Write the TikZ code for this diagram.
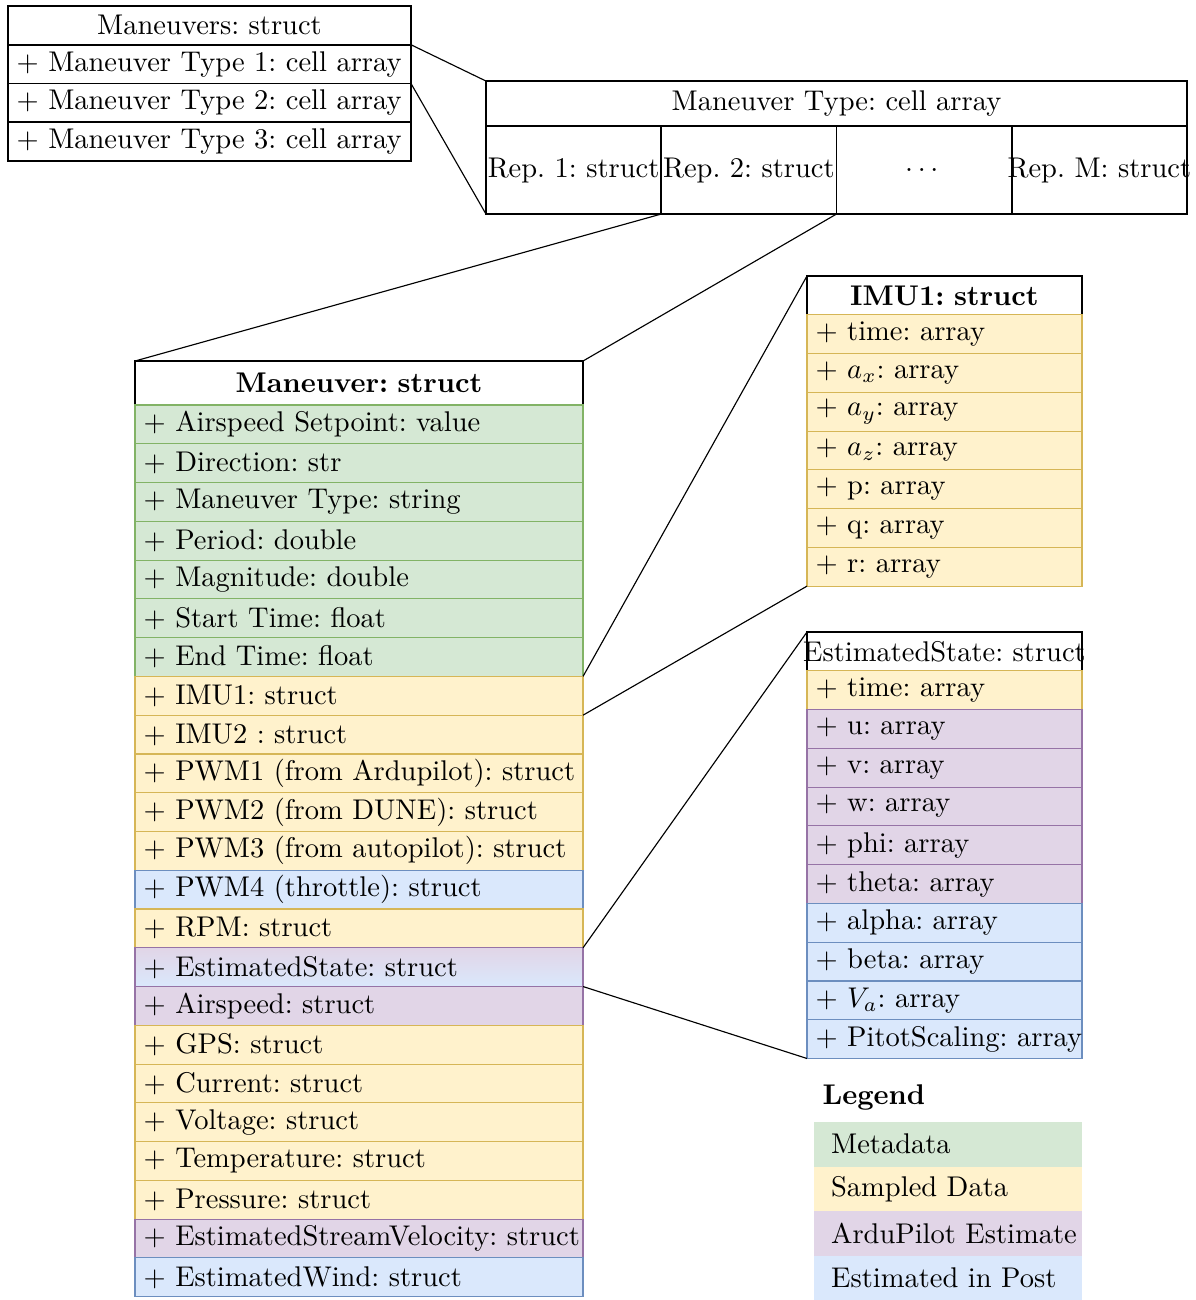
\documentclass[tikz,border=0pt]{standalone}
\usepackage{amsmath}
\usepackage{tikz}
\usetikzlibrary{positioning}

\definecolor{metafill}{HTML}{D5E8D4}
\definecolor{metaline}{HTML}{82B366}
\definecolor{sampfill}{HTML}{FFF2CC}
\definecolor{sampline}{HTML}{D6B656}
\definecolor{apfill}{HTML}{E1D5E7}
\definecolor{apline}{HTML}{9673A6}
\definecolor{postfill}{HTML}{DAE8FC}
\definecolor{postline}{HTML}{6C8EBF}

\frenchspacing

\tikzset{
	cell/.style = {rectangle, draw, semithick, inner sep=0pt, outer sep=0pt, text width=#1, minimum height=0.478cm,
		execute at begin node=\hbox to\hsize\bgroup\hss, execute at end node=\hss\egroup},
	field/.style = {rectangle, draw, thin, inner sep=0pt, outer sep=0pt, inner xsep=3pt, text width=#1, minimum height=0.478cm,
		execute at begin node=\hbox\bgroup, execute at end node=\egroup},
	key/.style = {rectangle, inner sep=0pt, outer sep=0pt, inner xsep=6pt, text width=2.882cm, minimum height=0.549cm,
		execute at begin node=\hbox\bgroup, execute at end node=\egroup},
	meta/.style = {fill=metafill, draw=metaline},
	samp/.style = {fill=sampfill, draw=sampline},
	ap/.style = {fill=apfill, draw=apline},
	post/.style = {fill=postfill, draw=postline},
}

\begin{document}
\begin{tikzpicture}
	\useasboundingbox (0,0) rectangle (14.747,-16.029);

	% all maneuvers
	\node[cell=4.969cm, anchor=north west] (mans) at (0.099,-0.074) {Maneuvers: struct};
	\node[field=4.758cm, semithick, below = 0pt of mans] (type1) {$+$ Maneuver Type 1: cell array};
	\node[field=4.758cm, semithick, below = 0pt of type1] (type2) {$+$ Maneuver Type 2: cell array};
	\node[field=4.758cm, semithick, below = 0pt of type2] (type3) {$+$ Maneuver Type 3: cell array};

	% one maneuver type
	\node[cell=8.644cm, minimum height=0.555cm, anchor=north west] (mtype) at (5.992,-0.999) {Maneuver Type: cell array};
	\node[cell=2.161cm, minimum height=1.085cm, anchor=north west] (rep1) at (mtype.south west) {Rep. 1: struct};
	\node[cell=2.161cm, minimum height=1.085cm, right = 0pt of rep1] (rep2) {Rep. 2: struct};
	\node[cell=2.161cm, minimum height=1.085cm, right = 0pt of rep2] (dots) {$\dots$};
	\node[cell=2.161cm, minimum height=1.085cm, right = 0pt of dots] (repm) {Rep. M: struct};

	% one repetition
	\node[cell=5.524cm, thick, minimum height=0.543cm, anchor=north west, font=\bfseries] (man) at (1.665,-4.451) {Maneuver: struct};
	\node[field=5.313cm, meta, below = 0pt of man] (setpoint) {$+$ Airspeed Setpoint: value};
	\node[field=5.313cm, meta, below = 0pt of setpoint] (dir) {$+$ Direction: str};
	\node[field=5.313cm, meta, below = 0pt of dir] (mantype) {$+$ Maneuver Type: string};
	\node[field=5.313cm, meta, below = 0pt of mantype] (period) {$+$ Period: double};
	\node[field=5.313cm, meta, below = 0pt of period] (mag) {$+$ Magnitude: double};
	\node[field=5.313cm, meta, below = 0pt of mag] (tstart) {$+$ Start Time: float};
	\node[field=5.313cm, meta, below = 0pt of tstart] (tend) {$+$ End Time: float};
	\node[field=5.313cm, samp, below = 0pt of tend] (imu1) {$+$ IMU1: struct};
	\node[field=5.313cm, samp, below = 0pt of imu1] (imu2) {$+$ IMU2 : struct};
	\node[field=5.313cm, samp, below = 0pt of imu2] (pwm1) {$+$ PWM1 (from Ardupilot): struct};
	\node[field=5.313cm, samp, below = 0pt of pwm1] (pwm2) {$+$ PWM2 (from DUNE): struct};
	\node[field=5.313cm, samp, below = 0pt of pwm2] (pwm3) {$+$ PWM3 (from autopilot): struct};
	\node[field=5.313cm, post, below = 0pt of pwm3] (pwm4) {$+$ PWM4 (throttle): struct};
	\node[field=5.313cm, samp, below = 0pt of pwm4] (rpm) {$+$ RPM: struct};
	\node[field=5.313cm, top color=apfill, bottom color=postfill, draw=apline, below = 0pt of rpm] (est) {$+$ EstimatedState: struct};
	\node[field=5.313cm, ap, below = 0pt of est] (aspd) {$+$ Airspeed: struct};
	\node[field=5.313cm, samp, below = 0pt of aspd] (gps) {$+$ GPS: struct};
	\node[field=5.313cm, samp, below = 0pt of gps] (curr) {$+$ Current: struct};
	\node[field=5.313cm, samp, below = 0pt of curr] (volt) {$+$ Voltage: struct};
	\node[field=5.313cm, samp, below = 0pt of volt] (temp) {$+$ Temperature: struct};
	\node[field=5.313cm, samp, below = 0pt of temp] (press) {$+$ Pressure: struct};
	\node[field=5.313cm, ap, below = 0pt of press] (stream) {$+$ EstimatedStreamVelocity: struct};
	\node[field=5.313cm, post, below = 0pt of stream] (wind) {$+$ EstimatedWind: struct};

	% imu
	\node[cell=3.391cm, anchor=north west, font=\bfseries] (imuhead) at (9.950,-3.403) {IMU1: struct};
	\node[field=3.180cm, samp, below = 0pt of imuhead] (itime) {$+$ time: array};
	\node[field=3.180cm, samp, below = 0pt of itime] (ax) {$+$ $a_x$: array};
	\node[field=3.180cm, samp, below = 0pt of ax] (ay) {$+$ $a_y$: array};
	\node[field=3.180cm, samp, below = 0pt of ay] (az) {$+$ $a_z$: array};
	\node[field=3.180cm, samp, below = 0pt of az] (p) {$+$ p: array};
	\node[field=3.180cm, samp, below = 0pt of p] (q) {$+$ q: array};
	\node[field=3.180cm, samp, below = 0pt of q] (r) {$+$ r: array};

	% estimated state
	\node[cell=3.391cm, anchor=north west] (esthead) at (9.950,-7.793) {EstimatedState: struct};
	\node[field=3.180cm, samp, below = 0pt of esthead] (etime) {$+$ time: array};
	\node[field=3.180cm, ap, below = 0pt of etime] (u) {$+$ u: array};
	\node[field=3.180cm, ap, below = 0pt of u] (v) {$+$ v: array};
	\node[field=3.180cm, ap, below = 0pt of v] (w) {$+$ w: array};
	\node[field=3.180cm, ap, below = 0pt of w] (phi) {$+$ phi: array};
	\node[field=3.180cm, ap, below = 0pt of phi] (theta) {$+$ theta: array};
	\node[field=3.180cm, post, below = 0pt of theta] (alpha) {$+$ alpha: array};
	\node[field=3.180cm, post, below = 0pt of alpha] (beta) {$+$ beta: array};
	\node[field=3.180cm, post, below = 0pt of beta] (va) {$+$ $V_a$: array};
	\node[field=3.180cm, post, below = 0pt of va] (pitot) {$+$ PitotScaling: array};

	% legend
	\node[anchor=west, inner sep=0pt, font=\bfseries] (legend) at (10.135,-13.526) {Legend};
	\node[key, fill=metafill, anchor=north west] (kmeta) at (10.037,-13.834) {Metadata};
	\node[key, fill=sampfill, below = 0pt of kmeta] (ksamp) {Sampled Data};
	\node[key, fill=apfill, below = 0pt of ksamp] (kap) {ArduPilot Estimate};
	\node[key, fill=postfill, below = 0pt of kap] (kpost) {Estimated in Post};

	% zoom lines
	\draw (type1.north east) -- (mtype.north west);
	\draw (type2.north east) -- (rep1.south west);
	\draw (rep1.south east) -- (man.north west);
	\draw (rep2.south east) -- (man.north east);
	\draw (imu1.north east) -- (imuhead.north west);
	\draw (imu1.south east) -- (r.south west);
	\draw (est.north east) -- (esthead.north west);
	\draw (est.south east) -- (pitot.south west);
\end{tikzpicture}
\end{document}
